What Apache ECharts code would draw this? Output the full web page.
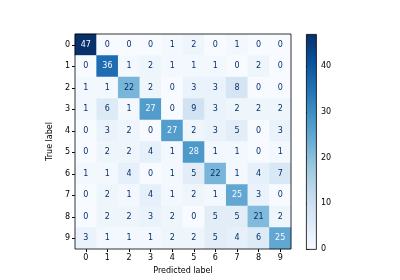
<!DOCTYPE html>
<html><head><meta charset="utf-8">
<script src="https://cdn.jsdelivr.net/npm/echarts@6/dist/echarts.min.js"></script>
<style>html,body{margin:0;padding:0;background:#fff}#c{width:400px;height:280px}</style>
</head><body><div id="c"></div>
<script>
const labels = ['0','1','2','3','4','5','6','7','8','9'];
const matrix = [
  [47,0,0,0,1,2,0,1,0,0],
  [0,36,1,2,1,1,1,0,2,0],
  [1,1,22,2,0,3,3,8,0,0],
  [1,6,1,27,0,9,3,2,2,2],
  [0,3,2,0,27,2,3,5,0,3],
  [0,2,2,4,1,28,1,1,0,1],
  [1,1,4,0,1,5,22,1,4,7],
  [0,2,1,4,1,2,1,25,3,0],
  [0,2,2,3,2,0,5,5,21,2],
  [3,1,1,1,2,2,5,4,6,25]
];
const cbTicks = [0,10,20,30,40];
const blues = ['#f7fbff','#deebf7','#c6dbef','#9ecae1','#6baed6','#4292c6','#2171b5','#08519c','#08306b'];
let vmax = 0, vmin = Infinity;
matrix.forEach(r => r.forEach(v => { vmax = Math.max(vmax, v); vmin = Math.min(vmin, v); }));
const thresh = (vmax + vmin) / 2;
const data = [];
matrix.forEach((row, i) => row.forEach((v, j) => {
  data.push({ value: [j, i, v], label: { color: v >= thresh ? '#f7fbff' : '#08306b' } });
}));
const font = 'DejaVu Sans';
const cb = { left: 306, top: 34, width: 10, height: 215 };
const chart = echarts.init(document.getElementById('c'), null, { renderer: 'canvas' });
chart.setOption({
  animation: false,
  textStyle: { fontFamily: font },
  grid: [
    { left: 75, top: 34, width: 216, height: 215, show: true, borderColor: '#000', borderWidth: 0.8, backgroundColor: 'transparent', z: 10 },
    { left: cb.left, top: cb.top, width: cb.width, height: cb.height, show: false }
  ],
  xAxis: [
    { type: 'category', data: labels, gridIndex: 0, position: 'bottom',
      name: 'Predicted label', nameLocation: 'middle', nameGap: 17,
      nameTextStyle: { fontSize: 8, color: '#000', fontFamily: font },
      axisLine: { show: false }, splitLine: { show: false },
      axisTick: { show: true, alignWithLabel: true, length: 3, lineStyle: { color: '#000' } },
      axisLabel: { fontSize: 8, color: '#000', margin: 5, fontFamily: font } },
    { type: 'value', gridIndex: 1, show: false, min: 0, max: 1 }
  ],
  yAxis: [
    { type: 'category', data: labels, gridIndex: 0, inverse: true,
      name: 'True label', nameLocation: 'middle', nameGap: 16, nameRotate: 90,
      nameTextStyle: { fontSize: 8, color: '#000', fontFamily: font },
      axisLine: { show: false }, splitLine: { show: false },
      axisTick: { show: true, alignWithLabel: true, length: 3, lineStyle: { color: '#000' } },
      axisLabel: { fontSize: 8, color: '#000', margin: 5, fontFamily: font } },
    { type: 'value', gridIndex: 1, position: 'right', min: 0, max: vmax, interval: 10,
      axisLine: { show: false }, splitLine: { show: false },
      axisTick: { show: true, length: 3, lineStyle: { color: '#000' } },
      axisLabel: { show: true, fontSize: 8, color: '#000', margin: 5, fontFamily: font, showMaxLabel: false,
        formatter: v => (cbTicks.indexOf(v) >= 0 ? String(v) : '') } }
  ],
  visualMap: [{
    type: 'continuous', min: vmin, max: vmax, seriesIndex: 0, show: false,
    inRange: { color: blues }
  }],
  graphic: [
    { type: 'rect', left: cb.left, top: cb.top, shape: { width: cb.width, height: cb.height },
      style: { fill: new echarts.graphic.LinearGradient(0, 1, 0, 0,
        blues.map((c, i) => ({ offset: i / (blues.length - 1), color: c }))), stroke: '#000', lineWidth: 0.8 },
      z: 100, silent: true }
  ],
  series: [{
    type: 'heatmap', xAxisIndex: 0, yAxisIndex: 0, data: data,
    label: { show: true, fontSize: 8, fontFamily: font, formatter: p => p.value[2] },
    itemStyle: { borderWidth: 0 }, emphasis: { disabled: true }
  }]
});
</script></body></html>
